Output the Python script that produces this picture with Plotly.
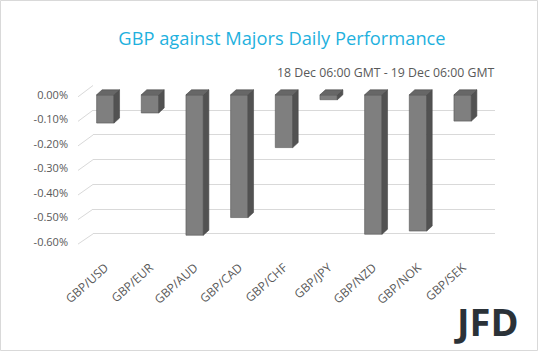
import plotly.graph_objects as go

categories = ["GBP/USD", "GBP/EUR", "GBP/AUD", "GBP/CAD", "GBP/CHF",
              "GBP/JPY", "GBP/NZD", "GBP/NOK", "GBP/SEK"]
values = [-0.115, -0.074, -0.572, -0.5, -0.215, -0.02, -0.568, -0.555, -0.107]
tick_vals = [0, -0.1, -0.2, -0.3, -0.4, -0.5, -0.6]
tick_text = ["0.00%", "-0.10%", "-0.20%", "-0.30%", "-0.40%", "-0.50%", "-0.60%"]

W, H = 538, 351
L, R, T, B = 83, 43, 85, 104
PW = W - L - R          # 412
PH = H - T - B          # 162
SHIFT = 10              # px offset of back wall
FRONT_RANGE = [-0.62, 0.04]
BACK_RANGE = [-0.653, 0.002]

idx = list(range(len(categories)))
bw = 0.39
dx = 0.123   # depth offset in x units
dy = 0.0204  # depth offset in y units

fig = go.Figure()

# dummy trace for back grid subplot
fig.add_trace(go.Scatter(x=[None], y=[None], xaxis="x", yaxis="y",
                         showlegend=False, hoverinfo="skip"))

# top faces and side faces
tx, ty, sx, sy = [], [], [], []
for i, v in zip(idx, values):
    xl, xr = i - bw / 2, i + bw / 2
    tx += [xl, xr, xr + dx, xl + dx, xl, None]
    ty += [0, 0, dy, dy, 0, None]
    sx += [xr, xr + dx, xr + dx, xr, xr, None]
    sy += [0, dy, v + dy, v, 0, None]

fig.add_trace(go.Scatter(x=sx, y=sy, xaxis="x2", yaxis="y2", mode="lines",
                         fill="toself", fillcolor="#525252",
                         line=dict(color="#4a4a4a", width=0.6),
                         showlegend=False, hoverinfo="skip"))
fig.add_trace(go.Scatter(x=tx, y=ty, xaxis="x2", yaxis="y2", mode="lines",
                         fill="toself", fillcolor="#676767",
                         line=dict(color="#4a4a4a", width=0.6),
                         showlegend=False, hoverinfo="skip"))
fig.add_trace(go.Bar(x=idx, y=values, width=bw, xaxis="x2", yaxis="y2",
                     marker=dict(color="#7f7f7f", line=dict(color="#555555", width=0.6)),
                     showlegend=False))

# left diagonal connectors from front labels to back grid
shapes = []
for v in tick_vals:
    front_pix = T + (FRONT_RANGE[1] - v) / (FRONT_RANGE[1] - FRONT_RANGE[0]) * PH + 2
    back_pix = T + (BACK_RANGE[1] - v) / (BACK_RANGE[1] - BACK_RANGE[0]) * PH
    shapes.append(dict(type="line", xref="paper", yref="paper",
                       x0=(78 - L) / PW, x1=(L + SHIFT - L) / PW,
                       y0=(H - B - front_pix) / PH, y1=(H - B - back_pix) / PH,
                       line=dict(color="#d9d9d9", width=1)))
# outer border
shapes.append(dict(type="rect", xref="paper", yref="paper",
                   x0=(0.5 - L) / PW, x1=(W - 0.5 - L) / PW,
                   y0=(H - B - (H - 0.5)) / PH, y1=(H - B - 0.5) / PH,
                   line=dict(color="#d9d9d9", width=1)))

fig.update_layout(
    width=W, height=H,
    margin=dict(l=L, r=R, t=T, b=B),
    paper_bgcolor="white",
    plot_bgcolor="rgba(0,0,0,0)",
    font=dict(family="Open Sans", color="#595959", size=11),
    title=dict(text="GBP against Majors Daily Performance",
               x=282 / W, y=1 - 39 / H, xanchor="center", yanchor="middle",
               font=dict(family="Open Sans", size=18.3, color="#1fb1de")),
    xaxis=dict(domain=[SHIFT / PW, 1], range=[-0.5, 8.5], anchor="y",
               showgrid=False, showticklabels=False, zeroline=False, showline=False),
    yaxis=dict(domain=[0, 1], range=BACK_RANGE, anchor="x",
               tickvals=tick_vals, showticklabels=False, showgrid=True,
               gridcolor="#d9d9d9", gridwidth=1, zeroline=False, showline=False),
    xaxis2=dict(domain=[0, (PW - SHIFT) / PW], range=[-0.5, 8.5], anchor="y2",
                tickmode="array", tickvals=idx, ticktext=categories,
                tickangle=-42, showgrid=False, zeroline=False, showline=False,
                ticks="outside", ticklen=8, tickcolor="rgba(0,0,0,0)",
                tickfont=dict(size=12, color="#595959")),
    yaxis2=dict(domain=[0, 1], range=FRONT_RANGE, anchor="x2",
                tickvals=tick_vals, ticktext=tick_text, showgrid=False,
                zeroline=False, showline=False, ticklabelstandoff=14,
                tickfont=dict(size=11, color="#595959")),
    shapes=shapes,
    annotations=[
        dict(text="18 Dec 06:00 GMT - 19 Dec 06:00 GMT", xref="paper", yref="paper",
             x=(497 - L) / PW, y=(H - B - 73) / PH, xanchor="right", yanchor="middle",
             showarrow=False, font=dict(size=12.3, color="#595959")),
        dict(text="<b>JFD</b>", xref="paper", yref="paper",
             x=(521 - L) / PW, y=(H - B - 321) / PH, xanchor="right", yanchor="middle",
             showarrow=False, font=dict(size=38, color="#2b3238", family="Open Sans")),
    ],
)

fig.write_html("out.html")
